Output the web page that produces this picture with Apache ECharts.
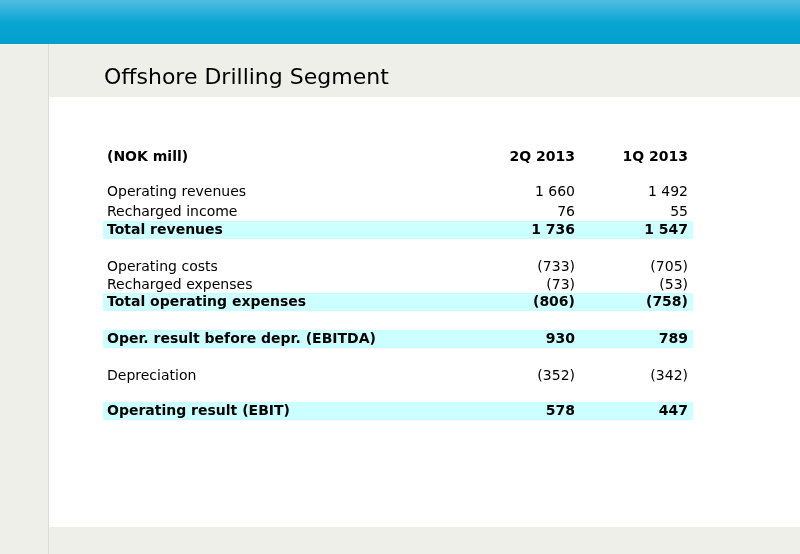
<!DOCTYPE html>
<html><head><meta charset="utf-8">
<script src="https://cdn.jsdelivr.net/npm/echarts@6/dist/echarts.min.js"></script>
<style>html,body{margin:0;padding:0;background:#fff}#c{width:800px;height:554px}</style>
</head><body><div id="c"></div>
<script>
var title = 'Offshore Drilling Segment';
var headers = ['(NOK mill)', '2Q 2013', '1Q 2013'];
var rowLabels = ['Operating revenues', 'Recharged income', 'Total revenues',
    'Operating costs', 'Recharged expenses', 'Total operating expenses',
    'Oper. result before depr. (EBITDA)', 'Depreciation', 'Operating result (EBIT)'];
var q2Values = ['1 660', '76', '1 736', '(733)', '(73)', '(806)', '930', '(352)', '578'];
var q1Values = ['1 492', '55', '1 547', '(705)', '(53)', '(758)', '789', '(342)', '447'];
var totalRows = [false, false, true, false, false, true, true, false, true];

// layout
var rowY = [192, 212, 230, 267, 285, 302, 339, 376, 411];
var headerY = 157, labelX = 107, col2X = 575, col1X = 688;

var font = 'Verdana, "DejaVu Sans", sans-serif';
var g = [];
g.push({type: 'rect', shape: {x: 0, y: 0, width: 800, height: 44},
    style: {fill: new echarts.graphic.LinearGradient(0, 0, 0, 1, [
        {offset: 0, color: '#52bde0'}, {offset: 0.5, color: '#0aa6d3'}, {offset: 1, color: '#009fcc'}])}});
g.push({type: 'rect', shape: {x: 0, y: 44, width: 800, height: 53}, style: {fill: '#efefea'}});
g.push({type: 'rect', shape: {x: 0, y: 97, width: 48, height: 457}, style: {fill: '#efefea'}});
g.push({type: 'rect', shape: {x: 0, y: 527, width: 800, height: 27}, style: {fill: '#efefea'}});
g.push({type: 'line', shape: {x1: 48.5, y1: 44, x2: 48.5, y2: 554}, style: {stroke: '#dcdcd6', lineWidth: 1}});
g.push({type: 'text', x: 104, y: 78, style: {text: title, font: '22px ' + font, fill: '#000', verticalAlign: 'middle'}});

function txt(s, x, y, bold, align) {
    g.push({type: 'text', x: x, y: y, style: {text: s, font: (bold ? 'bold ' : '') + '14px ' + font,
        fill: '#000', align: align, verticalAlign: 'middle'}});
}
txt(headers[0], labelX, headerY, true, 'left');
txt(headers[1], col2X, headerY, true, 'right');
txt(headers[2], col1X, headerY, true, 'right');

rowLabels.forEach(function(lab, i) {
    var y = rowY[i], b = totalRows[i];
    if (b) g.push({type: 'rect', shape: {x: 103, y: y - 9, width: 590, height: 18}, style: {fill: '#ccffff'}});
    txt(lab, labelX, y, b, 'left');
    txt(q2Values[i], col2X, y, b, 'right');
    txt(q1Values[i], col1X, y, b, 'right');
});

var chart = echarts.init(document.getElementById('c'));
chart.setOption({animation: false, graphic: g});
</script></body></html>
